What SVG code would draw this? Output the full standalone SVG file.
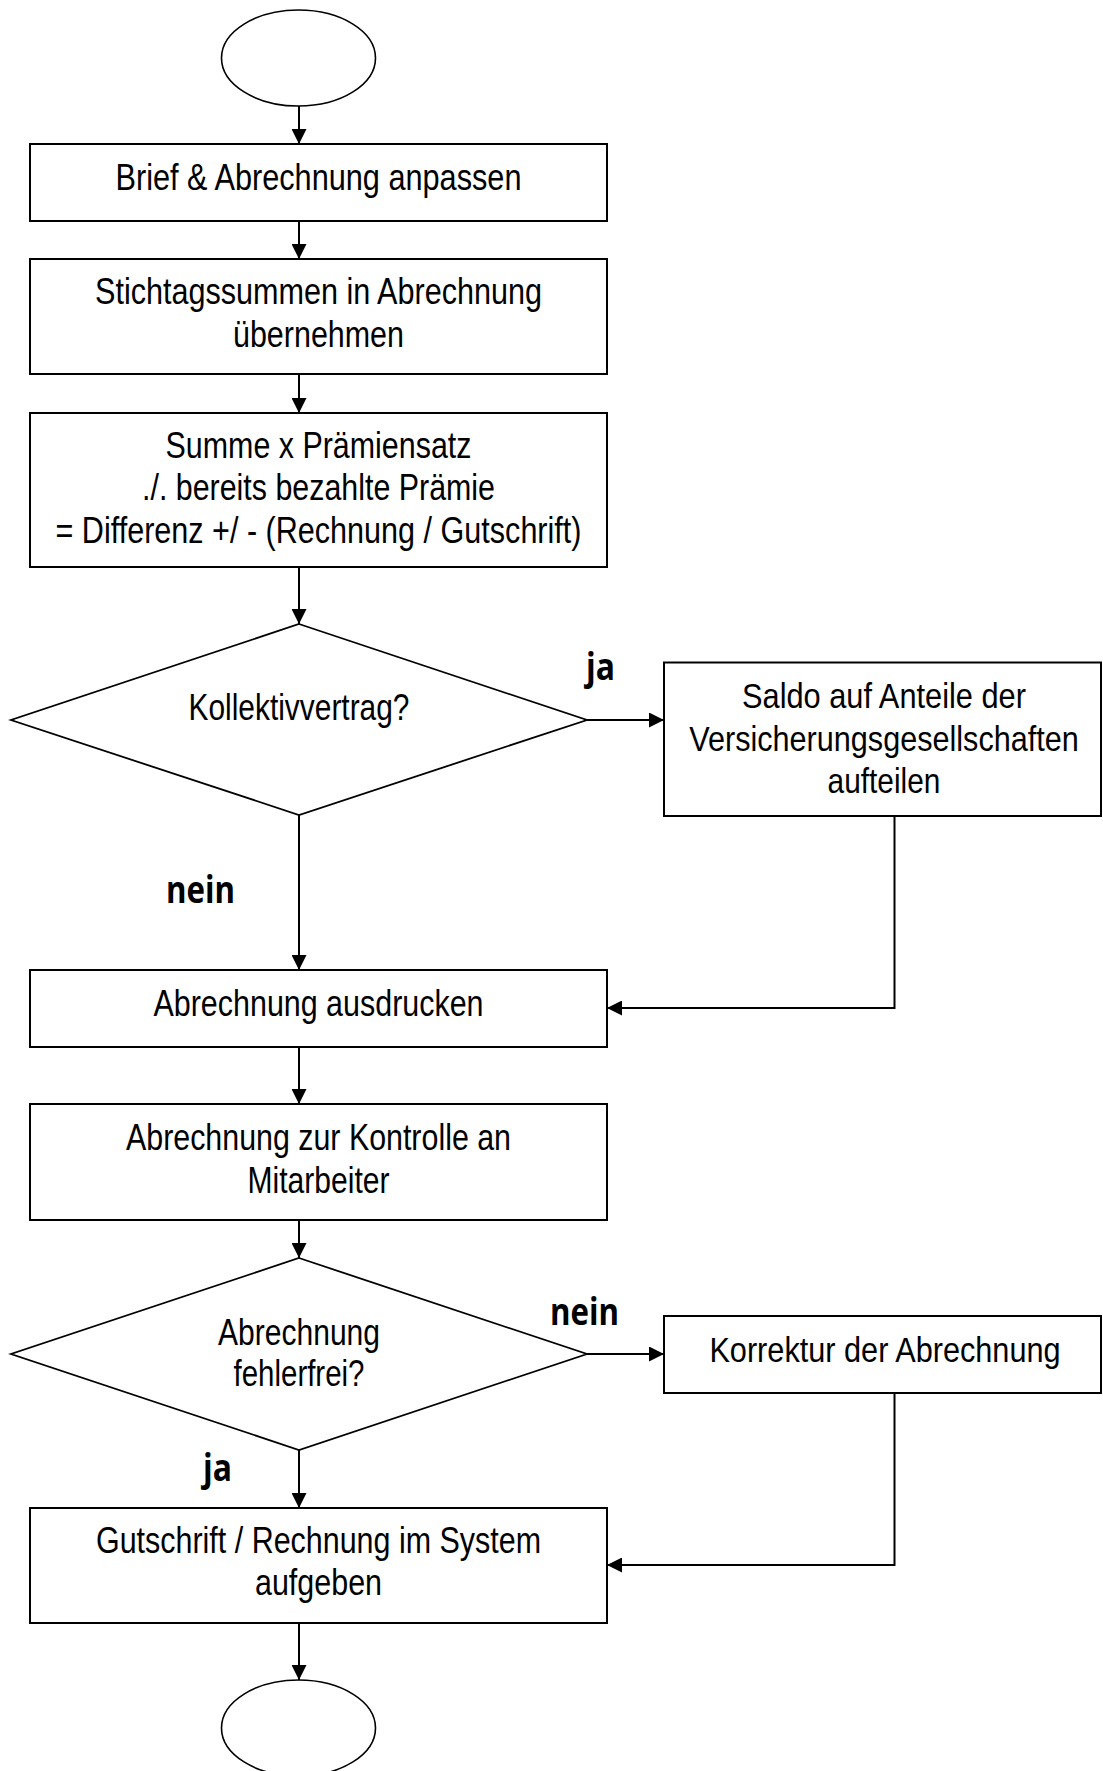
<svg xmlns="http://www.w3.org/2000/svg" width="1103" height="1771" viewBox="0 0 1103 1771">
<style>
.bg{fill:#ffffff}
.shape{fill:#ffffff;stroke:#000000;stroke-width:2}
.term{fill:#ffffff;stroke:#000000;stroke-width:1.6}
.dia{fill:#ffffff;stroke:#000000;stroke-width:1.8}
.t{font-family:"Liberation Sans Narrow","Liberation Sans",Arial,sans-serif;font-size:36px;fill:#000000;text-anchor:middle}
.lbl{font-family:"Open Sans","Noto Sans","Liberation Sans",sans-serif;font-weight:bold;font-size:38px;fill:#000000}
.conn{fill:none;stroke:#000000;stroke-width:2;marker-end:url(#arrow)}
</style>
<defs>
<marker id="arrow" viewBox="0 0 16 16" markerWidth="16" markerHeight="15" refX="16" refY="8" orient="auto" markerUnits="userSpaceOnUse">
<path d="M0,0 L16,8 L0,16 z" fill="#000000"/>
</marker>
</defs>
<rect class="bg" x="0" y="0" width="1103" height="1771"/>

<g id="connectors">
<path class="conn" d="M299,106 V144"/>
<path class="conn" d="M299,221 V259"/>
<path class="conn" d="M299,374 V413"/>
<path class="conn" d="M299,567 V624"/>
<path class="conn" d="M587,720 H664"/>
<path class="conn" d="M299,815 V970"/>
<path class="conn" d="M894.5,816 V1008 H607"/>
<path class="conn" d="M299,1047 V1104"/>
<path class="conn" d="M299,1220 V1258"/>
<path class="conn" d="M587,1354 H664"/>
<path class="conn" d="M299,1450 V1508"/>
<path class="conn" d="M894.5,1393 V1565 H607"/>
<path class="conn" d="M299,1623 V1680"/>
</g>

<g id="start">
<ellipse class="term" cx="298.5" cy="58" rx="77" ry="48"/>
</g>

<g id="box1">
<rect class="shape" x="30" y="144" width="577" height="77"/>
<text class="t" x="318.5" y="190" textLength="406" lengthAdjust="spacingAndGlyphs">Brief &amp; Abrechnung anpassen</text>
</g>

<g id="box2">
<rect class="shape" x="30" y="259" width="577" height="115"/>
<text class="t" x="318.5" y="304" textLength="447" lengthAdjust="spacingAndGlyphs">Stichtagssummen in Abrechnung</text>
<text class="t" x="318.5" y="346.5" textLength="171" lengthAdjust="spacingAndGlyphs">übernehmen</text>
</g>

<g id="box3">
<rect class="shape" x="30" y="413" width="577" height="154"/>
<text class="t" x="318.5" y="458" textLength="306" lengthAdjust="spacingAndGlyphs">Summe x Prämiensatz</text>
<text class="t" x="318.5" y="500" textLength="353" lengthAdjust="spacingAndGlyphs">./. bereits bezahlte Prämie</text>
<text class="t" x="318.5" y="543" textLength="526" lengthAdjust="spacingAndGlyphs">= Differenz +/ - (Rechnung / Gutschrift)</text>
</g>

<g id="decision1">
<polygon class="dia" points="299,624 587,720 299,815 11,720"/>
<text class="t" x="299" y="720" textLength="221" lengthAdjust="spacingAndGlyphs">Kollektivvertrag?</text>
</g>

<g id="box4">
<rect class="shape" x="664" y="662.5" width="437" height="153.5"/>
<text class="t" transform="scale(0.8,1)" x="1105" y="708" textLength="355" lengthAdjust="spacingAndGlyphs">Saldo auf Anteile der</text>
<text class="t" transform="scale(0.8,1)" x="1105" y="751.5" textLength="487" lengthAdjust="spacingAndGlyphs">Versicherungsgesellschaften</text>
<text class="t" transform="scale(0.8,1)" x="1105" y="793.5" textLength="141" lengthAdjust="spacingAndGlyphs">aufteilen</text>
</g>

<g id="box5">
<rect class="shape" x="30" y="970" width="577" height="77"/>
<text class="t" x="318.5" y="1016" textLength="330" lengthAdjust="spacingAndGlyphs">Abrechnung ausdrucken</text>
</g>

<g id="box6">
<rect class="shape" x="30" y="1104" width="577" height="116"/>
<text class="t" x="318.5" y="1150" textLength="385" lengthAdjust="spacingAndGlyphs">Abrechnung zur Kontrolle an</text>
<text class="t" x="318.5" y="1192.5" textLength="142" lengthAdjust="spacingAndGlyphs">Mitarbeiter</text>
</g>

<g id="decision2">
<polygon class="dia" points="299,1258 587,1354 299,1450 11,1354"/>
<text class="t" x="299" y="1345" textLength="162" lengthAdjust="spacingAndGlyphs">Abrechnung</text>
<text class="t" x="299" y="1386" textLength="131" lengthAdjust="spacingAndGlyphs">fehlerfrei?</text>
</g>

<g id="box7">
<rect class="shape" x="664" y="1316" width="437" height="77"/>
<text class="t" transform="scale(0.8,1)" x="1106.25" y="1362" textLength="439" lengthAdjust="spacingAndGlyphs">Korrektur der Abrechnung</text>
</g>

<g id="box8">
<rect class="shape" x="30" y="1508" width="577" height="115"/>
<text class="t" x="318.5" y="1553" textLength="445" lengthAdjust="spacingAndGlyphs">Gutschrift / Rechnung im System</text>
<text class="t" x="318.5" y="1595" textLength="127" lengthAdjust="spacingAndGlyphs">aufgeben</text>
</g>

<g id="end">
<ellipse class="term" cx="298.5" cy="1728" rx="77" ry="48"/>
</g>

<g id="labels">
<text class="lbl" x="586" y="680" textLength="29" lengthAdjust="spacingAndGlyphs">ja</text>
<text class="lbl" x="166" y="903" textLength="69" lengthAdjust="spacingAndGlyphs">nein</text>
<text class="lbl" x="550" y="1325" textLength="69" lengthAdjust="spacingAndGlyphs">nein</text>
<text class="lbl" x="203" y="1481" textLength="29" lengthAdjust="spacingAndGlyphs">ja</text>
</g>
</svg>
